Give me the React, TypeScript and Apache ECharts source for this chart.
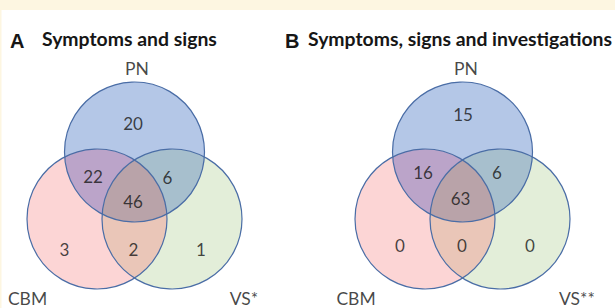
import React, { useEffect, useRef } from 'react';
import * as echarts from 'echarts';

// ---------- data ----------
const panelLetters = ['A', 'B'];
const panelTitles = ['Symptoms and signs', 'Symptoms, signs and investigations'];
const setNamesA = ['PN', 'CBM', 'VS*'];
const setNamesB = ['PN', 'CBM', 'VS**'];
// region order: PN only, CBM only, VS only, PN∩CBM, PN∩VS, CBM∩VS, PN∩CBM∩VS
const regionKeys = ['PN only', 'CBM only', 'VS only', 'PN∩CBM', 'PN∩VS', 'CBM∩VS', 'PN∩CBM∩VS'];
const countsA = [20, 3, 1, 22, 6, 2, 46];
const countsB = [15, 0, 0, 16, 6, 0, 63];

// ---------- layout (axis units = pixels) ----------
const W = 615;
const H = 308;
const panelCx = [134.5, 462.5];
const R = 70;
const topCy = 152;
const botCy = 219;
const halfSpread = 37.5;
const regionLabelPos = [
  [[133, 123], [64.5, 249], [201, 249], [93, 176], [167.5, 177], [133.5, 249], [133, 201]],
  [[463, 114], [400, 245], [530, 245], [423, 172], [497, 172], [462, 245], [460.5, 198]],
];
const setLabelPos = [
  [[137, 68], [27.5, 298.5], [244, 298.5]],
  [[466, 68], [356, 298.5], [577, 298.5]],
];
const titleLetterX = [10, 285];
const titleTextX = [42, 308];
const regionFill = ['#b4c7e7', '#fcd5d5', '#e3eed9', '#bba4c9', '#a7bfcd', '#eac6b8', '#b9a3a9'];
const strokeColor = '#4a6da6';
const cream = '#fdf6e1';
const textColor = '#161616';

type Pt = number[];

function inter(A: Pt, B: Pt, r: number, O3: Pt) {
  const dx = B[0] - A[0];
  const dy = B[1] - A[1];
  const d = Math.hypot(dx, dy);
  const h = Math.sqrt(Math.max(0, r * r - (d * d) / 4));
  const mx = (A[0] + B[0]) / 2;
  const my = (A[1] + B[1]) / 2;
  const nx = -dy / d;
  const ny = dx / d;
  const p1 = [mx + h * nx, my + h * ny];
  const p2 = [mx - h * nx, my - h * ny];
  const d1 = Math.hypot(p1[0] - O3[0], p1[1] - O3[1]);
  const d2 = Math.hypot(p2[0] - O3[0], p2[1] - O3[1]);
  return d1 < d2 ? { inner: p1, outer: p2 } : { inner: p2, outer: p1 };
}

function arc(O: Pt, r: number, A: Pt, B: Pt, n = 40): Pt[] {
  const a1 = Math.atan2(A[1] - O[1], A[0] - O[0]);
  const a2 = Math.atan2(B[1] - O[1], B[0] - O[0]);
  let d = a2 - a1;
  while (d > Math.PI) d -= 2 * Math.PI;
  while (d < -Math.PI) d += 2 * Math.PI;
  const pts: Pt[] = [];
  for (let i = 0; i <= n; i++) {
    const a = a1 + (d * i) / n;
    pts.push([O[0] + r * Math.cos(a), O[1] + r * Math.sin(a)]);
  }
  return pts;
}

function renderRegion(params: any, api: any) {
  const cx = api.value(0);
  const region = api.value(1);
  const P = api.coord([cx, topCy]);
  const C = api.coord([cx - halfSpread, botCy]);
  const V = api.coord([cx + halfSpread, botCy]);
  const r = api.size([R, 0])[0];
  const centers = [P, C, V];
  if (region <= 2) {
    const O = centers[region];
    return {
      type: 'circle',
      z2: region,
      shape: { cx: O[0], cy: O[1], r },
      style: { fill: regionFill[region], stroke: 'none' },
    };
  }
  const pc = inter(P, C, r, V);
  const pv = inter(P, V, r, C);
  const cv = inter(C, V, r, P);
  let points: Pt[] = [];
  if (region === 3) {
    points = arc(P, r, pc.outer, pc.inner).concat(arc(C, r, pc.inner, pc.outer));
  } else if (region === 4) {
    points = arc(P, r, pv.outer, pv.inner).concat(arc(V, r, pv.inner, pv.outer));
  } else if (region === 5) {
    points = arc(C, r, cv.outer, cv.inner).concat(arc(V, r, cv.inner, cv.outer));
  } else if (region === 6) {
    points = arc(C, r, pc.inner, cv.inner)
      .concat(arc(V, r, cv.inner, pv.inner))
      .concat(arc(P, r, pv.inner, pc.inner));
  } else {
    return {
      type: 'group',
      children: centers.map((O, i) => ({
        type: 'circle',
        z2: 20 + i,
        shape: { cx: O[0], cy: O[1], r },
        style: { fill: 'none', stroke: strokeColor, lineWidth: 1.2 },
      })),
    };
  }
  return {
    type: 'polygon',
    z2: region,
    shape: { points },
    style: { fill: regionFill[region], stroke: 'none' },
  };
}

export default function App() {
  const ref = useRef<HTMLDivElement>(null);
  useEffect(() => {
    document.body.style.margin = '0';
    const chart = echarts.init(ref.current!, undefined, { renderer: 'svg' });
    const regionData: number[][] = [];
    panelCx.forEach((cx) => {
      for (let k = 0; k <= 7; k++) regionData.push([cx, k]);
    });
    const countsAll = [countsA, countsB];
    const countData: any[] = [];
    countsAll.forEach((counts, p) => {
      counts.forEach((v, k) => {
        countData.push({ name: regionKeys[k], value: [regionLabelPos[p][k][0], regionLabelPos[p][k][1], v] });
      });
    });
    const setNames = [setNamesA, setNamesB];
    const setData: any[] = [];
    setNames.forEach((names, p) => {
      names.forEach((n, k) => {
        setData.push({ name: n, value: [setLabelPos[p][k][0], setLabelPos[p][k][1]] });
      });
    });
    const graphics: any[] = [
      { type: 'rect', shape: { x: 0, y: 0, width: W, height: 10 }, style: { fill: cream }, silent: true },
      { type: 'rect', shape: { x: 0, y: 0, width: 1.5, height: H }, style: { fill: cream }, silent: true },
    ];
    panelLetters.forEach((L, p) => {
      graphics.push({
        type: 'text',
        x: titleLetterX[p],
        y: 30.5,
        style: {
          text: L,
          font: 'bold 20px "Liberation Sans", Arial, sans-serif',
          fill: textColor,
          textVerticalAlign: 'alphabetic',
        },
      });
      graphics.push({
        type: 'text',
        x: titleTextX[p],
        y: 28.5,
        style: {
          text: panelTitles[p],
          font: 'bold 19.4px Lato, sans-serif',
          fill: textColor,
          textVerticalAlign: 'alphabetic',
        },
      });
    });
    chart.setOption({
      animation: false,
      backgroundColor: '#ffffff',
      grid: { left: 0, right: 0, top: 0, bottom: 0 },
      xAxis: { type: 'value', min: 0, max: W, show: false },
      yAxis: { type: 'value', min: 0, max: H, inverse: true, show: false },
      graphic: graphics,
      series: [
        {
          type: 'custom',
          renderItem: renderRegion,
          data: regionData,
          silent: true,
          z: 2,
        },
        {
          type: 'scatter',
          data: countData,
          symbolSize: 1,
          itemStyle: { color: 'rgba(0,0,0,0)' },
          z: 5,
          label: {
            show: true,
            position: 'inside',
            formatter: (p: any) => String(p.value[2]),
            fontFamily: 'Lato, sans-serif',
            fontSize: 17,
            color: textColor,
          },
        },
        {
          type: 'scatter',
          data: setData,
          symbolSize: 1,
          itemStyle: { color: 'rgba(0,0,0,0)' },
          z: 5,
          label: {
            show: true,
            position: 'inside',
            formatter: (p: any) => p.name,
            fontFamily: 'Lato, sans-serif',
            fontSize: 17.5,
            lineHeight: 14,
            color: textColor,
          },
        },
      ],
    });
    return () => chart.dispose();
  }, []);
  return <div ref={ref} style={{ width: W, height: H }} />;
}
